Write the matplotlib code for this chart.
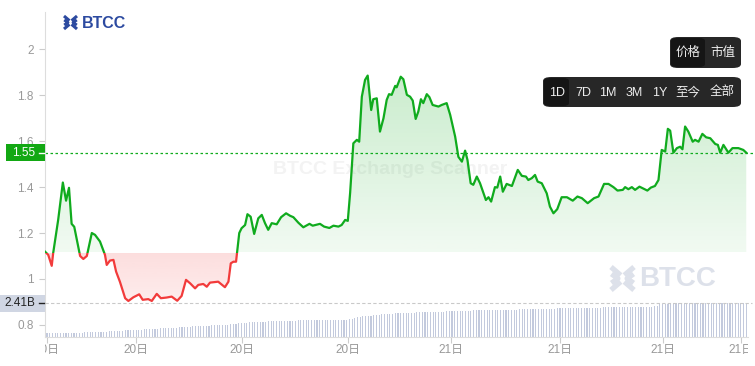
import numpy as np
import matplotlib
matplotlib.use('Agg')
import matplotlib.pyplot as plt
import matplotlib.transforms as mtransforms
from matplotlib.patches import Rectangle, FancyBboxPatch, Polygon
from matplotlib.lines import Line2D

plt.rcParams['font.family'] = ['Liberation Sans', 'Noto Sans CJK SC', 'DejaVu Sans']

# price over the day (hours from start)
hours = [0.00, 0.11, 0.23, 0.28, 0.45, 0.61, 0.72, 0.82, 0.91, 1.00,
         1.20, 1.31, 1.43, 1.60, 1.71, 1.88, 2.05, 2.11, 2.22, 2.34,
         2.43, 2.56, 2.74, 2.85, 3.02, 3.22, 3.34, 3.53, 3.65, 3.82,
         3.96, 4.16, 4.33, 4.52, 4.67, 4.82, 4.96, 5.13, 5.24, 5.41,
         5.53, 5.64, 5.92, 6.15, 6.27, 6.35, 6.44, 6.53, 6.64, 6.72,
         6.84, 6.92, 7.03, 7.15, 7.29, 7.41, 7.52, 7.63, 7.75, 7.92,
         8.07, 8.24, 8.38, 8.49, 8.66, 8.83, 9.04, 9.15, 9.40, 9.54,
         9.72, 9.86, 10.03, 10.14, 10.26, 10.35, 10.43, 10.54, 10.66, 10.74,
         10.83, 10.94, 11.03, 11.15, 11.22, 11.34, 11.45, 11.57, 11.68, 11.76,
         11.85, 11.97, 12.02, 12.16, 12.25, 12.37, 12.48, 12.57, 12.67, 12.76,
         12.85, 12.93, 13.05, 13.14, 13.25, 13.45, 13.56, 13.73, 13.85, 14.02,
         14.13, 14.25, 14.36, 14.44, 14.55, 14.64, 14.76, 14.87, 15.07, 15.16,
         15.25, 15.38, 15.46, 15.56, 15.65, 15.78, 15.96, 16.16, 16.30, 16.44,
         16.52, 16.64, 16.75, 16.84, 16.98, 17.15, 17.26, 17.38, 17.51, 17.66,
         17.84, 18.04, 18.20, 18.35, 18.55, 18.77, 18.92, 19.11, 19.26, 19.43,
         19.57, 19.75, 19.83, 19.94, 20.06, 20.17, 20.32, 20.43, 20.59, 20.71,
         20.85, 20.97, 21.08, 21.20, 21.29, 21.37, 21.48, 21.60, 21.71, 21.79,
         21.88, 21.99, 22.14, 22.22, 22.34, 22.47, 22.60, 22.74, 22.91, 23.00,
         23.08, 23.19, 23.36, 23.50, 23.70, 23.87, 23.97]
price = [1.119, 1.105, 1.057, 1.113, 1.257, 1.420, 1.341, 1.397, 1.240, 1.227,
         1.100, 1.087, 1.100, 1.200, 1.192, 1.163, 1.105, 1.061, 1.080, 1.083,
         1.032, 0.988, 0.916, 0.904, 0.920, 0.933, 0.909, 0.912, 0.904, 0.935,
         0.916, 0.919, 0.923, 0.905, 0.926, 0.996, 0.981, 0.959, 0.974, 0.978,
         0.966, 0.984, 0.988, 0.964, 0.988, 1.068, 1.075, 1.075, 1.200, 1.221,
         1.235, 1.282, 1.271, 1.196, 1.264, 1.279, 1.243, 1.214, 1.243, 1.238,
         1.269, 1.286, 1.275, 1.269, 1.245, 1.225, 1.240, 1.232, 1.240, 1.228,
         1.222, 1.232, 1.228, 1.235, 1.257, 1.253, 1.375, 1.591, 1.606, 1.598,
         1.794, 1.867, 1.886, 1.736, 1.783, 1.787, 1.642, 1.700, 1.780, 1.805,
         1.802, 1.841, 1.835, 1.881, 1.870, 1.802, 1.794, 1.777, 1.697, 1.729,
         1.783, 1.766, 1.805, 1.792, 1.758, 1.751, 1.758, 1.766, 1.715, 1.620,
         1.532, 1.511, 1.559, 1.519, 1.417, 1.410, 1.446, 1.417, 1.344, 1.356,
         1.337, 1.400, 1.398, 1.446, 1.380, 1.414, 1.405, 1.475, 1.449, 1.446,
         1.431, 1.439, 1.453, 1.424, 1.417, 1.373, 1.315, 1.286, 1.304, 1.356,
         1.356, 1.341, 1.359, 1.352, 1.330, 1.352, 1.359, 1.414, 1.414, 1.400,
         1.385, 1.388, 1.400, 1.391, 1.400, 1.388, 1.402, 1.395, 1.385, 1.398,
         1.405, 1.431, 1.562, 1.555, 1.654, 1.646, 1.550, 1.570, 1.576, 1.565,
         1.664, 1.642, 1.598, 1.606, 1.598, 1.632, 1.617, 1.613, 1.588, 1.584,
         1.550, 1.584, 1.550, 1.570, 1.570, 1.562, 1.550]
base_price = 1.113
last_price = 1.55

# cumulative volume, billions
vol_b = [0.25, 0.25, 0.26, 0.26, 0.27, 0.27, 0.28, 0.28, 0.29, 0.29,
         0.30, 0.30, 0.31, 0.31, 0.32, 0.32, 0.33, 0.33, 0.34, 0.35,
         0.36, 0.37, 0.38, 0.39, 0.40, 0.41, 0.42, 0.43, 0.45, 0.47,
         0.48, 0.49, 0.50, 0.51, 0.52, 0.53, 0.54, 0.55, 0.56, 0.57,
         0.58, 0.60, 0.61, 0.62, 0.63, 0.64, 0.65, 0.66, 0.67, 0.68,
         0.70, 0.72, 0.73, 0.74, 0.75, 0.76, 0.77, 0.78, 0.79, 0.80,
         0.81, 0.82, 0.83, 0.84, 0.85, 0.86, 0.87, 0.88, 0.90, 0.92,
         0.94, 0.96, 0.98, 1.00, 1.02, 1.03, 1.04, 1.05, 1.06, 1.07,
         1.08, 1.09, 1.10, 1.11, 1.12, 1.13, 1.13, 1.14, 1.14, 1.15,
         1.15, 1.16, 1.16, 1.17, 1.17, 1.18, 1.18, 1.18, 1.19, 1.19,
         1.19, 1.20, 1.20, 1.20, 1.20, 1.21, 1.21, 1.21, 1.21, 1.22,
         1.22, 1.23, 1.26, 1.30, 1.35, 1.40, 1.44, 1.47, 1.49, 1.50,
         1.52, 1.54, 1.56, 1.58, 1.60, 1.62, 1.64, 1.65, 1.66, 1.67,
         1.68, 1.69, 1.70, 1.71, 1.72, 1.73, 1.73, 1.74, 1.75, 1.76,
         1.76, 1.77, 1.78, 1.78, 1.79, 1.79, 1.80, 1.80, 1.81, 1.81,
         1.82, 1.83, 1.84, 1.85, 1.86, 1.86, 1.87, 1.87, 1.88, 1.88,
         1.89, 1.89, 1.90, 1.90, 1.90, 1.91, 1.91, 1.91, 1.92, 1.92,
         1.92, 1.93, 1.93, 1.94, 1.94, 1.95, 1.95, 1.96, 1.96, 1.96,
         1.97, 1.97, 1.98, 1.98, 1.99, 2.00, 2.01, 2.02, 2.02, 2.03,
         2.03, 2.04, 2.04, 2.05, 2.05, 2.05, 2.06, 2.06, 2.06, 2.07,
         2.07, 2.08, 2.08, 2.08, 2.09, 2.09, 2.10, 2.10, 2.11, 2.11,
         2.11, 2.12, 2.12, 2.12, 2.13, 2.13, 2.13, 2.14, 2.14, 2.14,
         2.15, 2.15, 2.15, 2.16, 2.16, 2.17, 2.22, 2.32, 2.36, 2.37,
         2.37, 2.38, 2.38, 2.38, 2.38, 2.39, 2.39, 2.39, 2.39, 2.39,
         2.40, 2.40, 2.40, 2.40, 2.40, 2.40, 2.40, 2.40, 2.40, 2.40,
         2.40, 2.41, 2.41, 2.41, 2.41, 2.41, 2.41, 2.41, 2.41, 2.41]
vol_last = 2.41
vol_label = '2.41B'

tick_pos = [0.07, 3.11, 6.74, 10.36, 13.88, 17.61, 21.13, 23.79]
tick_txt = ['20日', '20日', '20日', '20日', '21日', '21日', '21日', '21日']
ytick_vals = [0.8, 1.0, 1.2, 1.4, 1.6, 1.8, 2.0]
ytick_txt = ['0.8', '1', '1.2', '1.4', '1.6', '1.8', '2']
kind_btns = ['价格', '市值']
range_btns = ['1D', '7D', '1M', '3M', '1Y', '至今', '全部']

green = '#10ab1e'
red = '#f23b3b'

W, H = 755, 366
fig = plt.figure(figsize=(W / 100, H / 100), dpi=100)
fig.patch.set_facecolor('white')


def fx(x):
    return x / W


def fy(y):
    return 1 - y / H


ax = fig.add_axes([fx(45), fy(337), (748 - 45) / W, (337 - 12) / H])
ax2 = ax.twinx()
ax.set_zorder(ax2.get_zorder() + 1)
ax.patch.set_visible(False)

xmax = 24.03
ymin, ymax = 0.747, 2.163
px_p = 325 / (ymax - ymin)

# volume bars
t_vol = np.linspace(0.07, 23.97, len(vol_b))
ax2.bar(t_vol, vol_b, width=0.038, color='#c3cadd', linewidth=0)
vtop = vol_last * 325 / 34
ax2.set_ylim(0, vtop)
ax2.axhline(vol_last, xmax=(752 - 45) / 703, color='#c9c9c9', lw=0.8,
            ls=(0, (3, 2)), clip_on=False)
ax2.axis('off')

# watermark
ax.text(0.325, 0.515, 'BTCC Exchange Scanner', transform=ax.transAxes,
        fontsize=14, fontweight='bold', color='#f3f3f3', ha='left', va='center',
        zorder=0.5)

# gradient fills clipped to the area between line and baseline
hx = np.array(hours)
py = np.array(price)
area = Polygon(np.column_stack([np.concatenate([hx, hx[::-1]]),
                                np.concatenate([py, np.full(len(py), base_price)])]),
               closed=True, transform=ax.transData, fc='none', ec='none')
ax.add_patch(area)

g = np.zeros((256, 1, 4))
g[:, :, :3] = matplotlib.colors.to_rgb(green)
g[:, 0, 3] = np.linspace(0.06, 0.28, 256)
im = ax.imshow(g, extent=[0, xmax, base_price + 0.6 / px_p, ymax], origin='lower',
               aspect='auto', zorder=1, interpolation='bilinear')
im.set_clip_path(area)

r = np.zeros((256, 1, 4))
r[:, :, :3] = matplotlib.colors.to_rgb(red)
r[:, 0, 3] = np.linspace(0.04, 0.17, 256)
im2 = ax.imshow(r, extent=[0, xmax, ymin, base_price - 0.6 / px_p], origin='lower',
                aspect='auto', zorder=1, interpolation='bilinear')
im2.set_clip_path(area)

up = Rectangle((0, base_price), 30, 5, transform=ax.transData)
dn = Rectangle((0, base_price - 5), 30, 5, transform=ax.transData)
l1, = ax.plot(hx, py, color=green, lw=1.6, zorder=3, solid_joinstyle='round')
l1.set_clip_path(up)
l2, = ax.plot(hx, py, color=red, lw=1.6, zorder=3, solid_joinstyle='round')
l2.set_clip_path(dn)

ax.axhline(last_price, xmax=(755 - 45) / 703, color=green, lw=0.9,
           ls=(0, (2, 2)), clip_on=False, zorder=2)

ax.set_xlim(0, xmax)
ax.set_ylim(ymin, ymax)

for s in ['top', 'right']:
    ax.spines[s].set_visible(False)
for s in ['left', 'bottom']:
    ax.spines[s].set_color('#dddddd')
    ax.spines[s].set_linewidth(0.8)

ax.set_yticks(ytick_vals, ytick_txt)
ax.tick_params(axis='y', length=4, width=0.8, color='#cccccc',
               labelcolor='#999999', labelsize=8.5, pad=4)
ax.set_xticks(tick_pos, [''] * len(tick_pos))
ax.tick_params(axis='x', length=4, width=0.8, color='#cccccc')

clip_bbox = mtransforms.TransformedBbox(mtransforms.Bbox([[0, -1], [1, 2]]), ax.transAxes)
xt = mtransforms.blended_transform_factory(ax.transData, ax.transAxes)
for p, s in zip(tick_pos, tick_txt):
    t = ax.text(p, -0.04, s, transform=xt, ha='center', va='center',
                fontsize=8.5, color='#999999', clip_on=True)
    t.set_clip_box(clip_bbox)

# price label on the axis
ty = mtransforms.blended_transform_factory(fig.transFigure, ax.transData)
fig.add_artist(Rectangle((fx(6), last_price - 8.5 / px_p), fx(39), 17 / px_p,
                         transform=ty, fc='#12a813', ec='none', zorder=5))
fig.text(fx(35), last_price, '%.2f' % last_price, transform=ty, ha='right',
         va='center', color='white', fontsize=8.5, zorder=6)
fig.add_artist(Line2D([fx(39), fx(44)], [last_price, last_price], transform=ty,
                      color='white', lw=1, zorder=6))

# volume label on the axis
tv = mtransforms.blended_transform_factory(fig.transFigure, ax2.transData)
px_v = 325 / vtop
fig.add_artist(Rectangle((0, vol_last - 8.5 / px_v), fx(45), 17 / px_v,
                         transform=tv, fc='#d0d6e3', ec='none', zorder=5))
fig.text(fx(35), vol_last, vol_label, transform=tv, ha='right', va='center',
         color='#222222', fontsize=8.5, zorder=6)
fig.add_artist(Line2D([fx(39), fx(44)], [vol_last, vol_last], transform=tv,
                      color='#222222', lw=1, zorder=6))


def logo(x0, y0, s, color, lw):
    # BTCC mark, drawn in pixel units
    segs = [[(0, 0), (0.42, 0.36)], [(1, 0), (0.58, 0.36)],
            [(0, 1), (0.42, 0.64)], [(1, 1), (0.58, 0.64)],
            [(0.02, 0.3), (0.3, 0.5), (0.02, 0.7)],
            [(0.98, 0.3), (0.7, 0.5), (0.98, 0.7)]]
    for sg in segs:
        xs = [fx(x0 + a * s) for a, b in sg]
        ys = [fy(y0 + b * s) for a, b in sg]
        fig.add_artist(Line2D(xs, ys, color=color, lw=lw, solid_capstyle='butt'))


logo(64, 16, 13, '#2c4aa0', 2.2)
fig.text(fx(82), fy(23), 'BTCC', color='#2c4aa0', fontsize=11.5,
         fontweight='bold', ha='left', va='center')

logo(611, 267, 23, '#dde1ea', 3.8)
fig.text(fx(639), fy(279), 'BTCC', color='#dde1ea', fontsize=20,
         fontweight='bold', ha='left', va='center')

# buttons
def box(x0, y0, x1, y1, fc, rad):
    fig.add_artist(FancyBboxPatch((fx(x0), fy(y1)), fx(x1 - x0), (y1 - y0) / H,
                                  boxstyle='round,pad=0,rounding_size=%f' % (rad / H),
                                  fc=fc, ec='none', transform=fig.transFigure,
                                  mutation_aspect=1))


box(670, 37, 741, 68, '#272727', 4)
box(671, 38, 705, 67, '#151515', 3)
for s, cx in zip(kind_btns, [688, 723]):
    fig.text(fx(cx), fy(52.5), s, color='#eeeeee', fontsize=9, ha='center', va='center')

box(543, 77, 741, 107, '#272727', 4)
box(544, 78, 569, 106, '#151515', 3)
for s, cx in zip(range_btns, [557, 583, 608, 634, 660, 688, 722]):
    fig.text(fx(cx), fy(92.5), s, color='#eeeeee', fontsize=9, ha='center', va='center')

fig.savefig('out.png', dpi=100)
